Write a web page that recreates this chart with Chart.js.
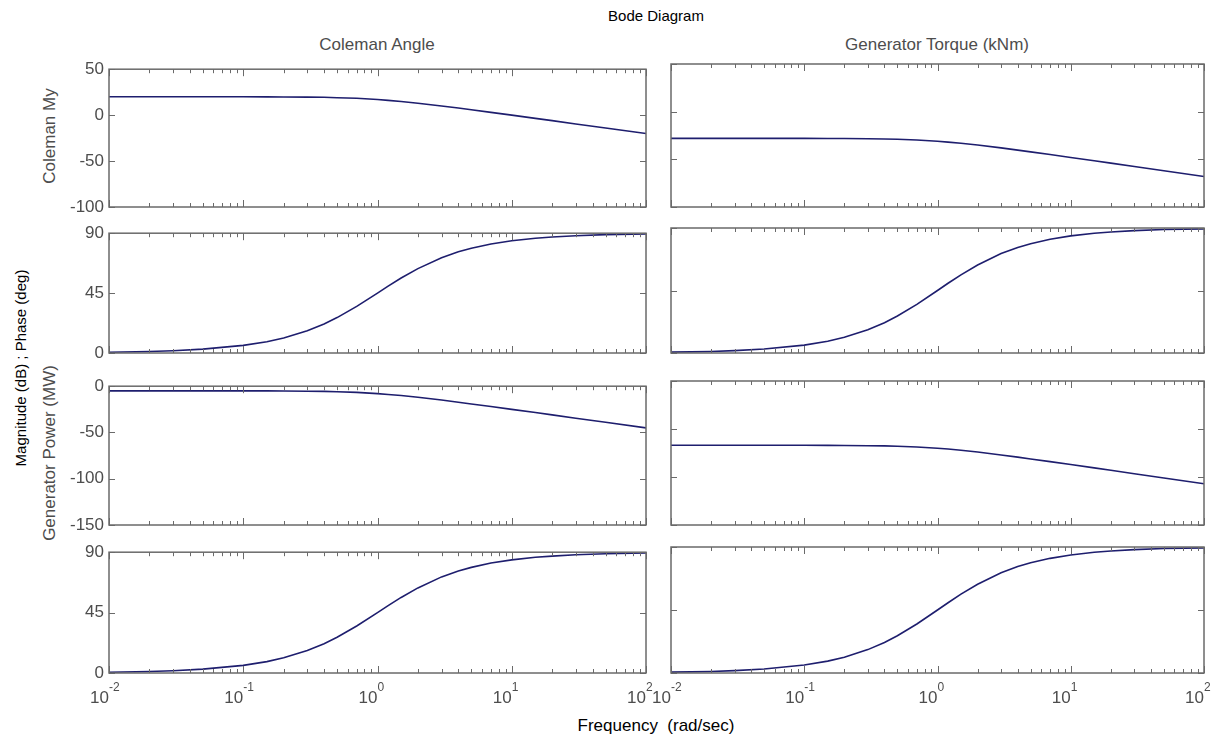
<!DOCTYPE html>
<html><head><meta charset="utf-8">
<script src="https://cdn.jsdelivr.net/npm/chart.js@4.4.1/dist/chart.umd.min.js"></script>
<style>
html,body{margin:0;padding:0;background:#fff;width:1222px;height:740px;overflow:hidden;font-family:"Liberation Sans",Arial,sans-serif;}
.panel{position:absolute;}
.t{position:absolute;white-space:nowrap;line-height:1;transform:translate(-50%,-50%);}
.r{transform:translate(-50%,-50%) rotate(-90deg);}
.gray{color:#4d4d4d;font-size:17px;}
.blk{color:#000;font-size:15px;}
</style></head><body>
<div class="t blk" style="left:656px;top:15px;">Bode Diagram</div>
<div class="t gray" style="left:377px;top:44px;">Coleman Angle</div>
<div class="t gray" style="left:937px;top:44px;">Generator Torque (kNm)</div>
<div class="t blk r" style="left:20px;top:368px;">Magnitude (dB) ; Phase (deg)</div>
<div class="t gray r" style="left:49px;top:136px;">Coleman My</div>
<div class="t gray r" style="left:49px;top:453px;">Generator Power (MW)</div>
<div class="t blk" style="left:656px;top:725px;font-size:17px;">Frequency&nbsp; (rad/sec)</div>
<div id="host"></div>
<script>
// ---- data ----
const frequency = [0.01,0.02,0.03,0.05,0.1,0.15,0.2,0.3,0.4,0.5,0.7,1,1.2,1.5,2,3,4,5,7,10,15,20,30,50,100];
const magColemanMyAngle  = [20.0,20.0,20.0,20.0,20.0,19.9,19.8,19.6,19.4,19.0,18.3,17.0,16.1,14.9,13.0,10.0,7.7,5.9,3.0,0.0,-3.5,-6.0,-9.6,-14.0,-20.0];
const phaseColemanMyAngle = [0.6,1.1,1.7,2.9,5.7,8.5,11.3,16.7,21.8,26.6,35.0,45.0,50.2,56.3,63.4,71.6,76.0,78.7,81.9,84.3,86.2,87.1,88.1,88.9,89.4];
const magColemanMyTorque = [-28.0,-28.0,-28.0,-28.0,-28.0,-28.1,-28.2,-28.4,-28.6,-29.0,-29.7,-31.0,-31.9,-33.1,-35.0,-38.0,-40.3,-42.2,-45.0,-48.0,-51.5,-54.0,-57.6,-62.0,-68.0];
const phaseColemanMyTorque = [0.6,1.1,1.7,2.9,5.7,8.5,11.3,16.7,21.8,26.6,35.0,45.0,50.2,56.3,63.4,71.6,76.0,78.7,81.9,84.3,86.2,87.1,88.1,88.9,89.4];
const magGenPowerAngle   = [-5.0,-5.0,-5.0,-5.0,-5.0,-5.1,-5.2,-5.4,-5.6,-6.0,-6.7,-8.0,-8.9,-10.1,-12.0,-15.0,-17.3,-19.2,-22.0,-25.0,-28.5,-31.0,-34.6,-39.0,-45.0];
const phaseGenPowerAngle = [0.6,1.1,1.7,2.9,5.7,8.5,11.3,16.7,21.8,26.6,35.0,45.0,50.2,56.3,63.4,71.6,76.0,78.7,81.9,84.3,86.2,87.1,88.1,88.9,89.4];
const magGenPowerTorque  = [-67.0,-67.0,-67.0,-67.0,-67.0,-67.1,-67.2,-67.4,-67.6,-68.0,-68.7,-70.0,-70.9,-72.1,-74.0,-77.0,-79.3,-81.2,-84.0,-87.0,-90.5,-93.0,-96.6,-101.0,-107.0];
const phaseGenPowerTorque = [0.6,1.1,1.7,2.9,5.7,8.5,11.3,16.7,21.8,26.6,35.0,45.0,50.2,56.3,63.4,71.6,76.0,78.7,81.9,84.3,86.2,87.1,88.1,88.9,89.4];

const decadeTicks = [0.01,0.1,1,10,100];
const decadeExponents = ['-2','-1','0','1','2'];
const magTicksColemanMy = [-100,-50,0,50];
const phaseTicks = [0,45,90];
const magTicksGenPower = [-150,-100,-50,0];

// ---- layout ----
const colRects = [{left:109,width:537},{left:671,width:533}];
const rowRects = [{top:64,height:143},{top:228,height:125},{top:381,height:144},{top:547,height:126}];
const PAD_L = 60, PAD_T = 10, PAD_R = 10, PAD_B = 45;
const FONT = '"Liberation Sans", Arial, sans-serif';

const bodeFrame = {
  id:'bodeFrame',
  afterDraw(chart, args, opts){
    const {ctx, chartArea:a} = chart;
    const x = chart.scales.x, y = chart.scales.y;
    ctx.save();
    ctx.strokeStyle = '#6a6a6a';
    ctx.lineWidth = 1;
    ctx.beginPath();
    x.ticks.forEach(t => {
      const px = Math.round(x.getPixelForValue(t.value)) + 0.5;
      const len = t.major ? 7 : 4;
      ctx.moveTo(px, a.bottom); ctx.lineTo(px, a.bottom - len);
      ctx.moveTo(px, a.top); ctx.lineTo(px, a.top + len);
    });
    y.ticks.forEach(t => {
      const py = Math.round(y.getPixelForValue(t.value)) + 0.5;
      ctx.moveTo(a.left, py); ctx.lineTo(a.left + 6, py);
      ctx.moveTo(a.right, py); ctx.lineTo(a.right - 6, py);
    });
    ctx.stroke();
    ctx.lineWidth = 1.5;
    ctx.strokeRect(a.left, a.top, a.right - a.left, a.bottom - a.top);
    if (opts.xLabels) {
      ctx.fillStyle = '#4d4d4d';
      ctx.textBaseline = 'alphabetic';
      decadeTicks.forEach((v, i) => {
        const px = x.getPixelForValue(v);
        ctx.font = '17px ' + FONT;
        ctx.textAlign = 'right';
        ctx.fillText('10', px, a.bottom + 30);
        ctx.font = '12px ' + FONT;
        ctx.textAlign = 'left';
        ctx.fillText(decadeExponents[i], px, a.bottom + 18);
      });
    }
    ctx.restore();
  }
};

function makePanel(row, col, values, yMin, yMax, yTicks) {
  const r = rowRects[row], c = colRects[col];
  const W = c.width + PAD_L + PAD_R, H = r.height + PAD_T + PAD_B;
  const div = document.createElement('div');
  div.className = 'panel';
  div.style.left = (c.left - PAD_L) + 'px';
  div.style.top = (r.top - PAD_T) + 'px';
  div.style.width = W + 'px'; div.style.height = H + 'px';
  const cv = document.createElement('canvas');
  cv.width = W; cv.height = H;
  cv.style.width = W + 'px'; cv.style.height = H + 'px';
  div.appendChild(cv);
  document.getElementById('host').appendChild(div);
  new Chart(cv, {
    type:'line',
    data:{ datasets:[{
      data: frequency.map((f, i) => ({x:f, y:values[i]})),
      borderColor:'#1e1e6e', borderWidth:1.6, pointRadius:0, tension:0, fill:false
    }]},
    options:{
      responsive:false, animation:false, devicePixelRatio:1,
      layout:{padding:{left:0, top:PAD_T, right:PAD_R, bottom:0}},
      plugins:{legend:{display:false}, tooltip:{enabled:false}, title:{display:false},
               bodeFrame:{xLabels: row === 3}},
      scales:{
        x:{ type:'logarithmic', min:0.01, max:100,
            grid:{display:false, drawTicks:false}, border:{display:false},
            ticks:{display:false, autoSkip:false},
            afterBuildTicks(s){
              const t = [];
              for (let d = 0; d < decadeTicks.length - 1; d++)
                for (let k = 1; k <= 9; k++) t.push({value: decadeTicks[d]*k, major: k === 1});
              t.push({value: decadeTicks[decadeTicks.length-1], major:true});
              s.ticks = t;
            },
            afterFit(s){ s.height = PAD_B; } },
        y:{ min:yMin, max:yMax,
            grid:{display:false, drawTicks:false}, border:{display:false},
            ticks:{display: col === 0, autoSkip:false, padding:5, color:'#4d4d4d',
                   font:{family:FONT, size:17}},
            afterBuildTicks(s){ s.ticks = yTicks.map(v => ({value:v})); },
            afterFit(s){ s.width = PAD_L; } }
      }
    },
    plugins:[bodeFrame]
  });
}

makePanel(0, 0, magColemanMyAngle, -100, 50, magTicksColemanMy);
makePanel(0, 1, magColemanMyTorque, -100, 50, magTicksColemanMy);
makePanel(1, 0, phaseColemanMyAngle, 0, 90, phaseTicks);
makePanel(1, 1, phaseColemanMyTorque, 0, 90, phaseTicks);
makePanel(2, 0, magGenPowerAngle, -150, 0, magTicksGenPower);
makePanel(2, 1, magGenPowerTorque, -150, 0, magTicksGenPower);
makePanel(3, 0, phaseGenPowerAngle, 0, 90, phaseTicks);
makePanel(3, 1, phaseGenPowerTorque, 0, 90, phaseTicks);
</script>
</body></html>
